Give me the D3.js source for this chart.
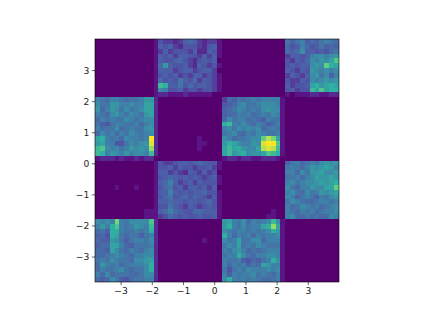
<!DOCTYPE html>
<html>
<head>
<meta charset="utf-8">
<script src="https://cdn.jsdelivr.net/npm/d3@7"></script>
<style>
  html, body { margin: 0; padding: 0; background: #fff; }
  svg { display: block; }
  text { font-family: "DejaVu Sans", sans-serif; }
</style>
</head>
<body>
<svg></svg>
<script>
// ticks
const xTicks = [-3, -2, -1, 0, 1, 2, 3];
const yTicks = [-3, -2, -1, 0, 1, 2, 3];

// bin counts per checker block (max is 20)
const midTop = [
  [4,3,3,2,3,5,6,5,3,2,3,3,1],
  [5,4,5,3,2,4,4,4,3,2,4,5,1],
  [3,5,3,4,4,4,3,5,2,2,5,4,1],
  [5,4,5,3,5,5,4,4,3,5,3,5,1],
  [5,4,4,5,6,4,3,2,4,5,4,5,0],
  [6,10,5,4,4,5,3,2,5,4,3,4,1],
  [5,5,5,3,4,5,5,3,4,5,5,3,0],
  [4,5,4,5,3,4,3,5,5,3,4,3,1],
  [6,4,5,4,7,5,4,6,3,5,4,3,1],
  [13,12,5,5,7,4,6,4,5,5,4,3,1],
  [9,8,4,4,5,3,4,4,3,4,4,3,1],
  [2,2,1,1,1,2,1,1,1,1,1,0,0]
];
const rightTop = [
  [7,5,7,8,5,6,5,7,8,7,6],
  [6,4,5,8,6,4,5,7,5,6,5],
  [6,5,6,9,5,5,4,5,4,6,7],
  [3,5,5,4,5,8,9,9,8,9,10],
  [4,3,5,4,6,9,8,10,9,11,14],
  [4,5,4,5,5,9,10,9,15,12,11],
  [5,4,3,5,4,10,9,8,9,8,9],
  [3,5,4,3,5,9,10,7,9,5,8],
  [4,3,3,5,4,9,8,9,10,9,10],
  [5,3,4,4,5,11,12,10,11,12,11],
  [4,5,3,4,4,13,11,14,11,12,12],
  [1,0,1,1,1,2,2,1,1,2,2]
];
const leftUpper = [
  [8,7,6,8,8,7,6,7,7,8,10,10,2],
  [9,7,7,10,10,8,8,9,8,8,11,11,2],
  [10,6,8,10,9,7,9,7,8,9,11,11,2],
  [8,7,6,9,10,8,7,9,8,7,10,11,2],
  [6,8,7,8,7,7,9,8,7,8,9,9,2],
  [7,5,4,7,8,8,7,7,8,6,8,9,2],
  [8,6,7,7,9,6,7,8,7,7,9,10,2],
  [6,9,7,8,6,8,7,9,8,7,8,9,2],
  [11,12,8,7,8,6,9,8,8,7,8,20,2],
  [10,11,8,8,4,4,7,9,8,9,10,19,2],
  [13,14,9,8,9,7,8,10,9,10,9,17,2],
  [13,12,8,10,9,8,10,8,9,9,8,13,2],
  [1,2,2,2,1,2,1,1,2,1,2,2,0]
];
const centerUpper = [
  [3,6,5,7,6,7,8,7,8,8,8,8,1],
  [4,5,6,8,9,7,7,8,9,9,9,8,1],
  [5,6,7,9,8,7,8,7,9,10,9,9,1],
  [5,6,6,8,7,8,6,7,8,7,9,8,1],
  [6,9,7,8,8,6,7,6,5,8,7,7,1],
  [12,13,8,7,9,7,6,8,7,5,6,8,1],
  [8,9,7,9,8,9,8,9,6,7,8,7,1],
  [7,8,9,6,6,8,7,9,8,7,7,8,1],
  [9,8,6,7,7,8,9,9,15,18,16,11,1],
  [10,12,11,9,8,8,10,9,19,20,20,14,1],
  [11,13,11,12,10,9,9,11,18,19,18,13,1],
  [11,13,10,11,12,9,10,10,11,14,13,12,1],
  [1,2,2,1,2,2,1,1,2,2,2,1,0]
];
const midLower = [
  [4,3,3,4,5,5,4,5,6,5,4,4,1],
  [4,4,5,3,5,4,4,3,4,4,5,3,1],
  [5,5,3,4,3,2,5,4,3,5,3,4,0],
  [4,5,6,5,4,5,4,5,4,3,4,5,1],
  [5,6,8,5,3,4,5,3,5,4,4,4,1],
  [4,6,7,4,5,3,5,5,4,5,3,5,0],
  [5,5,8,5,4,5,4,5,5,6,4,4,1],
  [4,6,7,4,5,6,4,6,5,4,3,5,1],
  [5,5,6,5,5,4,5,5,4,5,6,4,1],
  [4,4,7,5,4,3,5,4,3,4,5,4,1],
  [5,6,8,6,5,4,4,6,6,5,5,5,1],
  [3,4,6,5,4,5,4,4,5,4,4,5,1]
];
const rightLower = [
  [5,7,8,6,7,8,7,9,10,9,10],
  [7,8,7,6,8,10,9,10,11,10,8],
  [8,8,6,9,7,10,10,11,9,9,10],
  [7,7,8,6,8,9,11,10,10,11,10],
  [8,9,7,8,9,9,10,11,10,11,12],
  [9,7,6,8,8,10,9,9,11,11,15],
  [8,9,7,6,9,7,8,10,9,10,11],
  [9,8,5,7,8,7,5,8,7,9,10],
  [7,9,8,7,6,6,7,8,8,7,8],
  [8,6,7,9,8,7,8,6,7,8,9],
  [8,7,6,8,7,8,6,7,8,8,9],
  [8,9,6,6,7,6,7,6,6,9,8]
];
const leftBottom = [
  [9,8,9,8,16,8,7,9,9,9,9,14,2],
  [8,10,8,12,14,8,7,8,10,9,8,13,2],
  [6,7,5,12,12,8,7,7,8,7,8,12,2],
  [5,6,4,12,11,7,6,7,7,5,7,8,2],
  [6,5,5,10,9,7,5,7,8,8,7,9,2],
  [5,6,6,11,11,8,6,5,7,7,7,8,2],
  [6,6,5,11,9,7,6,8,7,6,8,9,2],
  [6,6,7,8,9,8,7,6,8,8,9,9,2],
  [7,8,7,9,8,7,7,6,9,9,10,11,2],
  [6,10,8,7,8,6,7,8,8,8,9,12,2],
  [6,8,7,7,8,9,7,6,7,7,9,12,2],
  [8,6,9,6,7,7,7,6,6,7,9,9,2],
  [6,5,6,9,7,5,4,6,7,7,8,8,2]
];
const centerBottom = [
  [10,11,8,7,9,6,8,7,8,9,13,9,1],
  [10,12,8,7,9,7,8,8,11,12,17,11,1],
  [9,8,7,8,8,7,8,7,8,9,12,10,1],
  [12,8,6,8,7,8,6,8,7,8,8,9,1],
  [9,7,8,11,7,7,9,9,6,8,8,8,1],
  [7,9,8,11,7,8,7,9,8,7,7,7,1],
  [8,7,9,10,8,6,7,6,7,8,8,8,1],
  [7,8,8,12,9,7,6,8,8,9,9,8,1],
  [8,7,7,8,5,4,6,5,7,8,12,9,1],
  [8,6,8,7,8,5,7,6,11,10,8,8,1],
  [7,4,7,8,7,9,8,8,8,9,8,9,1],
  [8,5,8,7,8,8,9,7,8,7,6,8,1],
  [9,12,8,7,8,7,8,7,6,6,7,8,1]
];
// faint cells inside the empty squares: row, col, count
const specks = [[20,21,1],[21,21,1],[21,22,1],[22,21,1],[30,4,1],[30,8,1],[41,22,1],[35,10,1],[35,11,1],[36,10,1],[36,11,1],[35,36,1],[36,35,1],[36,36,1]];

// colour stops fitted to the picture
const colorStops = [0, 1, 4, 8, 12, 16, 20];
const colorRange = ["#56006e", "#5a1486", "#4f55a5", "#3f80a8", "#2fb0a0", "#70d878", "#fde725"];

const zeros = n => new Array(n).fill(0);
const nearEdge = zeros(12).concat([1]);

// stitch the blocks back into one 50x50 grid, row 0 at the top
const grid = [];
midTop.forEach((r, i) => grid.push(nearEdge.concat(r, zeros(13), rightTop[i])));
leftUpper.forEach((r, i) => grid.push(r.concat(zeros(13), centerUpper[i], zeros(11))));
midLower.forEach((r, i) => grid.push(nearEdge.concat(r, zeros(13), rightLower[i])));
leftBottom.forEach((r, i) => grid.push(r.concat(zeros(13), centerBottom[i], zeros(11))));
specks.forEach(s => { grid[s[0]][s[1]] = s[2]; });

const cells = [];
grid.forEach((r, i) => r.forEach((v, j) => cells.push({row: i, col: j, value: v})));

const nBins = 50;
const margin = { top: 39, left: 95, bottom: 35, right: 84 };
const width = 423 - margin.left - margin.right;
const height = 317 - margin.top - margin.bottom;

const svg = d3.select("svg")
    .attr("width", 423)
    .attr("height", 317)
  .append("g")
    .attr("transform", `translate(${margin.left},${margin.top})`);

const xDomain = [-3.82, 4.0];
const yDomain = [-3.82, 4.0];
const x = d3.scaleLinear().domain(xDomain).range([0, width]);
const y = d3.scaleLinear().domain(yDomain).range([height, 0]);
const binW = (xDomain[1] - xDomain[0]) / nBins;
const binH = (yDomain[1] - yDomain[0]) / nBins;
const color = d3.scaleLinear().domain(colorStops).range(colorRange);

svg.selectAll("rect.cell")
    .data(cells)
  .enter()
  .append("rect")
    .attr("class", "cell")
    .attr("x", d => x(xDomain[0] + d.col * binW))
    .attr("y", d => y(yDomain[1] - d.row * binH))
    .attr("width", x(binW) - x(0))
    .attr("height", y(0) - y(binH))
    .attr("shape-rendering", "crispEdges")
    .attr("fill", d => color(d.value));

const fmt = d => String(d).replace("-", "\u2212");

const xAxis = svg.append("g")
    .attr("transform", `translate(0,${height})`)
    .call(d3.axisBottom(x).tickValues(xTicks).tickFormat(fmt).tickSize(3.2).tickPadding(2.5));
const yAxis = svg.append("g")
    .call(d3.axisLeft(y).tickValues(yTicks).tickFormat(fmt).tickSize(3.2).tickPadding(2.5));

[xAxis, yAxis].forEach(a => {
    a.select(".domain").remove();
    a.selectAll("line").attr("stroke", "#000").attr("stroke-width", 0.6);
    a.selectAll("text").attr("fill", "#262626").style("font-size", "9.2px");
});

// frame
svg.append("rect")
    .attr("width", width)
    .attr("height", height)
    .attr("fill", "none")
    .attr("stroke", "#000")
    .attr("stroke-width", 0.6);
</script>
</body>
</html>
